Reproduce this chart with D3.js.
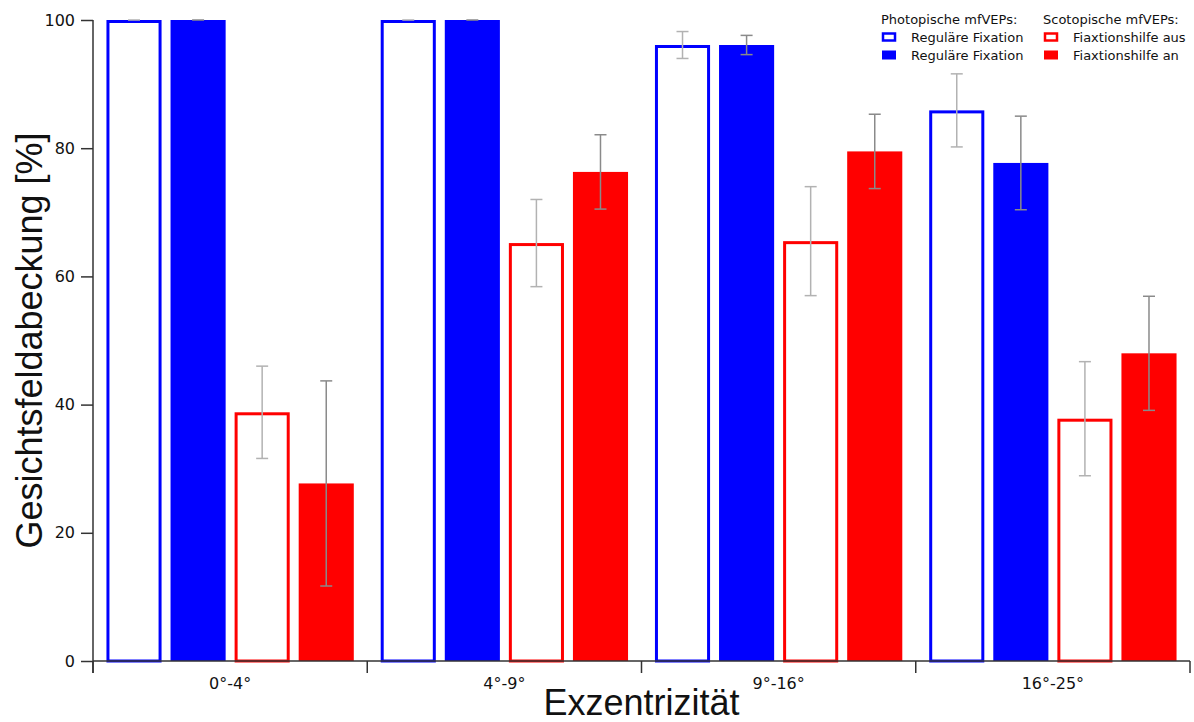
<!DOCTYPE html>
<html>
<head>
<meta charset="utf-8">
<script src="https://cdn.jsdelivr.net/npm/d3@7"></script>
<style>
  body { margin: 0; background: #fff; }
  text { font-family: "DejaVu Sans", sans-serif; fill: #111; }
  .title { font-family: "Liberation Sans", Arial, sans-serif; }
</style>
</head>
<body>
<div id="chart"></div>
<script>
const categories = ["0°-4°", "4°-9°", "9°-16°", "16°-25°"];
const seriesKeys = ["photoOpen", "photoFull", "scotoOpen", "scotoFull"];
const photoOpen = [100, 100, 96.1, 85.9];
const photoOpenErr = [0, 0, 2.1, 5.7];
const photoFull = [100, 100, 96.1, 77.7];
const photoFullErr = [0, 0, 1.5, 7.3];
const scotoOpen = [38.8, 65.2, 65.5, 37.8];
const scotoOpenErr = [7.2, 6.8, 8.5, 8.9];
const scotoFull = [27.7, 76.3, 79.5, 48.0];
const scotoFullErr = [16.0, 5.8, 5.8, 8.9];
const yTicks = [0, 20, 40, 60, 80, 100];

var margin = { top: 20, right: 4, bottom: 61, left: 93 };
const width = 1194 - margin.left - margin.right;
const height = 722 - margin.top - margin.bottom;

var svg = d3.select("#chart")
    .append("svg")
    .attr("width", 1194)
    .attr("height", 722)
    .append("g")
    .attr("transform", "translate(" + margin.left + "," + margin.top + ")");

// one row per bar
var series = [
    { key: "photoOpen", vals: photoOpen, err: photoOpenErr, color: "#0000ff", filled: false, errColor: "#b2b2b2" },
    { key: "photoFull", vals: photoFull, err: photoFullErr, color: "#0000ff", filled: true, errColor: "#8a8a8a" },
    { key: "scotoOpen", vals: scotoOpen, err: scotoOpenErr, color: "#ff0000", filled: false, errColor: "#b2b2b2" },
    { key: "scotoFull", vals: scotoFull, err: scotoFullErr, color: "#ff0000", filled: true, errColor: "#8a8a8a" }
];
var rows = [];
categories.forEach(function (c, i) {
    series.forEach(function (s) {
        rows.push({ cat: c, key: s.key, v: s.vals[i], e: s.err[i], s: s });
    });
});

var x0 = d3.scaleBand().domain(categories).range([0, width]).padding(0);
var x1 = d3.scaleBand().domain(seriesKeys).range([0, x0.bandwidth()])
    .paddingInner(0.14).paddingOuter(0.21);
var y = d3.scaleLinear().domain([0, 100]).range([height, 0]);

// bars
var bw = x1.bandwidth();
rows.forEach(function (d) {
    var bx = x0(d.cat) + x1(d.key);
    if (d.s.filled) {
        svg.append("rect")
            .attr("x", bx).attr("y", y(d.v))
            .attr("width", bw).attr("height", y(0) - y(d.v))
            .style("fill", d.s.color);
    } else {
        svg.append("rect")
            .attr("x", bx + 1.5).attr("y", y(d.v) + 1.5)
            .attr("width", bw - 3).attr("height", y(0) - y(d.v) - 1.5)
            .style("fill", "#fff")
            .attr("stroke", d.s.color).attr("stroke-width", 3);
    }
});

// error bars
rows.forEach(function (d) {
    var cx = x0(d.cat) + x1(d.key) + bw / 2;
    var g = svg.append("g").attr("stroke", d.s.errColor).attr("stroke-width", 1.5);
    g.append("line").attr("x1", cx).attr("x2", cx)
        .attr("y1", y(d.v + d.e)).attr("y2", y(d.v - d.e));
    g.append("line").attr("x1", cx - 6).attr("x2", cx + 6)
        .attr("y1", y(d.v + d.e)).attr("y2", y(d.v + d.e));
    if (d.e > 0) {
        g.append("line").attr("x1", cx - 6).attr("x2", cx + 6)
            .attr("y1", y(d.v - d.e)).attr("y2", y(d.v - d.e));
    }
});

// y axis
var yAxis = svg.append("g")
    .call(d3.axisLeft(y).tickValues(yTicks).tickSize(12).tickPadding(6));
yAxis.select(".domain").remove();
yAxis.selectAll("line").attr("stroke", "#333").attr("stroke-width", 1.5);
yAxis.selectAll("text").style("font-size", "16px").style("font-family", "DejaVu Sans");
svg.append("line")
    .attr("x1", 0).attr("x2", 0).attr("y1", y(100)).attr("y2", height + 12)
    .attr("stroke", "#333").attr("stroke-width", 1.5);

// x axis
svg.append("line")
    .attr("x1", 0).attr("x2", width).attr("y1", height).attr("y2", height)
    .attr("stroke", "#333").attr("stroke-width", 1.5);
var xAxis = svg.append("g")
    .attr("transform", "translate(0," + height + ")")
    .call(d3.axisBottom(x0).tickSize(0).tickPadding(17));
xAxis.select(".domain").remove();
xAxis.selectAll("text").style("font-size", "16px").style("font-family", "DejaVu Sans");
var bounds = categories.map(function (c) { return x0(c); }).concat([width]);
bounds.forEach(function (bx) {
    svg.append("line")
        .attr("x1", bx).attr("x2", bx).attr("y1", height).attr("y2", height + 12)
        .attr("stroke", "#333").attr("stroke-width", 1.5);
});

// titles
svg.append("text")
    .attr("class", "title")
    .attr("text-anchor", "middle")
    .attr("x", width / 2)
    .attr("y", height + 54)
    .style("font-size", "36px")
    .text("Exzentrizität");

svg.append("text")
    .attr("class", "title")
    .attr("text-anchor", "middle")
    .attr("transform", "rotate(-90)")
    .attr("x", -height / 2)
    .attr("y", -margin.left + 42)
    .style("font-size", "36px")
    .text("Gesichtsfeldabeckung [%]");

// legend
var legendCols = [
    { head: "Photopische mfVEPs:", x: 788, items: [series[0], series[1]], labels: ["Reguläre Fixation", "Reguläre Fixation"] },
    { head: "Scotopische mfVEPs:", x: 950, items: [series[2], series[3]], labels: ["Fiaxtionshilfe aus", "Fiaxtionshilfe an"] }
];
legendCols.forEach(function (col) {
    var lg = svg.append("g").attr("transform", "translate(" + col.x + ",0)");
    lg.append("text").attr("x", 0).attr("y", 4).style("font-size", "13px").text(col.head);
    col.items.forEach(function (s, j) {
        var yy = 17 + j * 18;
        if (s.filled) {
            lg.append("rect").attr("x", 1).attr("y", yy - 4.5).attr("width", 14).attr("height", 9)
                .style("fill", s.color);
        } else {
            lg.append("rect").attr("x", 2).attr("y", yy - 3.5).attr("width", 12).attr("height", 7)
                .style("fill", "#fff").attr("stroke", s.color).attr("stroke-width", 2.5);
        }
        lg.append("text").attr("x", 30).attr("y", yy + 4.5)
            .style("font-size", "13px").text(col.labels[j]);
    });
});
</script>
</body>
</html>
